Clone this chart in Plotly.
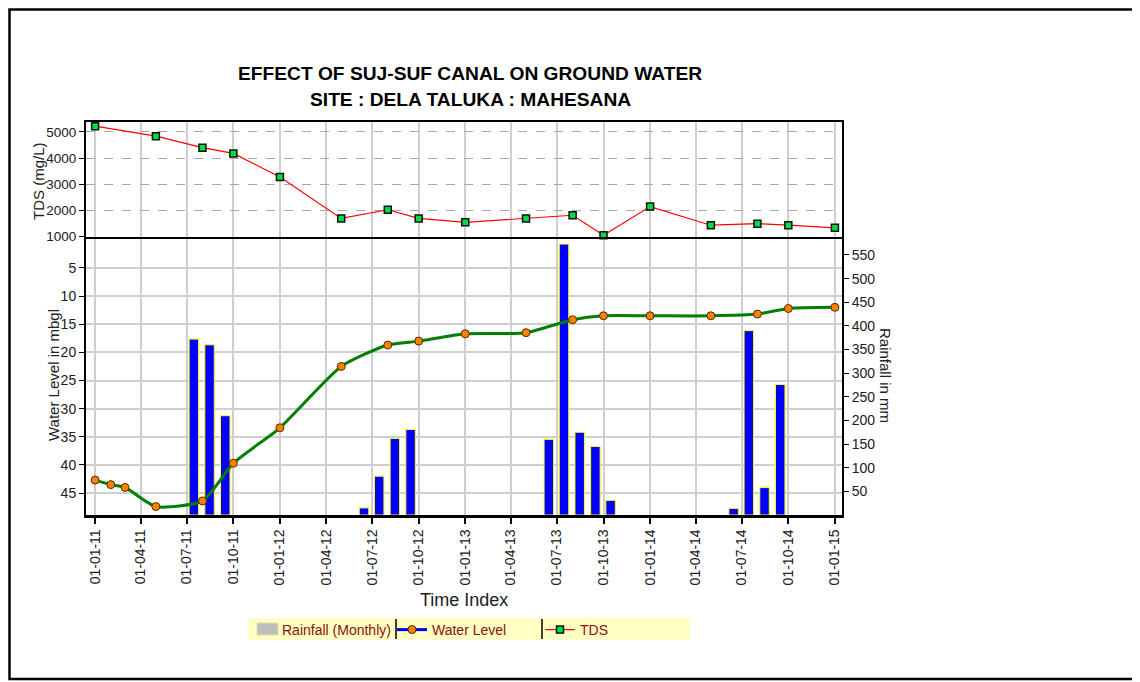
import plotly.graph_objects as go

# ---------------- data ----------------
tick_dates = ['2011-01-01', '2011-04-01', '2011-07-01', '2011-10-01',
              '2012-01-01', '2012-04-01', '2012-07-01', '2012-10-01',
              '2013-01-01', '2013-04-01', '2013-07-01', '2013-10-01',
              '2014-01-01', '2014-04-01', '2014-07-01', '2014-10-01',
              '2015-01-01']
tick_labels = ['01-01-11', '01-04-11', '01-07-11', '01-10-11',
               '01-01-12', '01-04-12', '01-07-12', '01-10-12',
               '01-01-13', '01-04-13', '01-07-13', '01-10-13',
               '01-01-14', '01-04-14', '01-07-14', '01-10-14',
               '01-01-15']

wl_dates = ['2011-01-01', '2011-02-01', '2011-03-01', '2011-05-01', '2011-08-01',
            '2011-10-01', '2012-01-01', '2012-05-01', '2012-08-01', '2012-10-01',
            '2013-01-01', '2013-05-01', '2013-08-01', '2013-10-01', '2014-01-01',
            '2014-05-01', '2014-08-01', '2014-10-01', '2015-01-01']
water_level = [42.7, 43.5, 44.0, 47.4, 46.4, 39.7, 33.4, 22.5, 18.7, 18.0,
               16.7, 16.5, 14.2, 13.5, 13.5, 13.5, 13.2, 12.2, 12.0]

tds_dates = ['2011-01-01', '2011-05-01', '2011-08-01', '2011-10-01', '2012-01-01',
             '2012-05-01', '2012-08-01', '2012-10-01', '2013-01-01', '2013-05-01',
             '2013-08-01', '2013-10-01', '2014-01-01', '2014-05-01', '2014-08-01',
             '2014-10-01', '2015-01-01']
tds = [5220, 4840, 4400, 4180, 3280, 1700, 2030, 1700, 1550, 1700,
       1820, 1060, 2150, 1440, 1500, 1440, 1340]

rain_dates = ['2011-07-15', '2011-08-15', '2011-09-15',
              '2012-06-15', '2012-07-15', '2012-08-15', '2012-09-15',
              '2013-06-15', '2013-07-15', '2013-08-15', '2013-09-15', '2013-10-15',
              '2014-06-15', '2014-07-15', '2014-08-15', '2014-09-15']
rainfall = [372, 360, 210, 15, 82, 162, 181, 160, 573, 175, 145, 31, 14, 390, 58, 276]

wl_ticks = [5, 10, 15, 20, 25, 30, 35, 40, 45]
rain_ticks = [50, 100, 150, 200, 250, 300, 350, 400, 450, 500, 550]
tds_ticks = [1000, 2000, 3000, 4000, 5000]

# ---------------- figure ----------------
FONT = "Arial, Liberation Sans, sans-serif"
GRID = "#CFCFCF"

fig = go.Figure()

# rainfall bars (base axis y, right side)
fig.add_trace(go.Bar(
    x=rain_dates, y=rainfall, xaxis='x', yaxis='y',
    width=1.62e9,
    marker=dict(color='#0000FF', line=dict(color='#FFFF00', width=1)),
    showlegend=False, hoverinfo='x+y'))

# water level (overlay axis y2, left side)
fig.add_trace(go.Scatter(
    x=wl_dates, y=water_level, xaxis='x', yaxis='y2',
    mode='lines+markers',
    line=dict(color='#008000', width=3, shape='spline', smoothing=0.6),
    marker=dict(symbol='circle', size=8, color='#FF8000',
                line=dict(color='#4a3000', width=1)),
    showlegend=False))

# TDS (top panel)
fig.add_trace(go.Scatter(
    x=tds_dates, y=tds, xaxis='x2', yaxis='y3',
    mode='lines+markers',
    line=dict(color='#FF0000', width=1.2),
    marker=dict(symbol='square', size=7, color='#00DD44',
                line=dict(color='#101010', width=1.5)),
    cliponaxis=False,
    showlegend=False))

# legend-only entries (styled as in the reference legend)
fig.add_trace(go.Bar(x=[None], y=[None], xaxis='x', yaxis='y',
                     name='Rainfall (Monthly)', legendwidth=105,
                     marker=dict(color='rgba(0,0,0,0)', line=dict(width=0))))
fig.add_trace(go.Scatter(x=[None], y=[None], xaxis='x', yaxis='y2',
                         name='Water Level', mode='lines+markers', legendwidth=103,
                         line=dict(color='#0000FF', width=3),
                         marker=dict(symbol='circle', size=8, color='#FF8000',
                                     line=dict(color='#4a3000', width=1))))
fig.add_trace(go.Scatter(x=[None], y=[None], xaxis='x2', yaxis='y3',
                         name='TDS', mode='lines+markers',
                         line=dict(color='#FF0000', width=1.2),
                         marker=dict(symbol='square', size=7, color='#00DD44',
                                     line=dict(color='#101010', width=1.5))))

# The page body adds an 8px offset; figure is laid out so that the
# screen positions match the reference.
OFF = 8
W, H = 1140 - OFF, 682 - OFF
L, T = 86 - OFF, 122 - OFF
R = W - (842 - OFF)
B = H - (515 - OFF)
PW = 842 - 86
PH = 515 - 122
SPLIT = (515 - 237) / PH


def px(xs):
    return (xs - 86) / PW


def py(ys):
    return (515 - ys) / PH


xrange_ = ['2010-12-14', '2015-01-15']

fig.update_layout(
    width=W, height=H,
    margin=dict(l=L, r=R, t=T, b=B, pad=0),
    paper_bgcolor='white', plot_bgcolor='white',
    barmode='overlay',
    font=dict(family=FONT, size=14, color='#202020'),
    xaxis=dict(
        type='date', range=xrange_, anchor='y', domain=[0, 1],
        tickmode='array', tickvals=tick_dates, ticktext=tick_labels,
        tickangle=-90, ticks='outside', ticklen=6, tickwidth=1.5, tickcolor='black',
        tickfont=dict(family=FONT, size=14, color='#202020'),
        showline=True, linecolor='black', linewidth=2.5,
        showgrid=True, gridcolor=GRID, gridwidth=1.5, zeroline=False),
    xaxis2=dict(
        type='date', range=xrange_, anchor='y3', matches='x', domain=[0, 1],
        tickmode='array', tickvals=tick_dates, showticklabels=False, ticks='',
        showline=True, linecolor='black', linewidth=2, mirror=True,
        showgrid=True, gridcolor=GRID, gridwidth=1.5, zeroline=False),
    yaxis=dict(
        domain=[0, SPLIT], range=[0, 588], side='right', anchor='x',
        tickmode='array', tickvals=rain_ticks,
        ticks='outside', ticklen=5, tickcolor='black',
        tickfont=dict(family=FONT, size=14, color='#202020'),
        showline=True, linecolor='black', linewidth=2,
        showgrid=False, zeroline=False),
    yaxis2=dict(
        overlaying='y', side='left', anchor='x', range=[48.9, -0.5],
        tickmode='array', tickvals=wl_ticks,
        ticks='outside', ticklen=5, tickcolor='black',
        tickfont=dict(family=FONT, size=14, color='#202020'),
        showline=True, linecolor='black', linewidth=2,
        showgrid=True, gridcolor=GRID, gridwidth=1.5, zeroline=False),
    yaxis3=dict(
        domain=[SPLIT, 1], range=[990, 5380], anchor='x2',
        tickmode='array', tickvals=tds_ticks,
        ticks='outside', ticklen=5, tickcolor='black',
        tickfont=dict(family=FONT, size=13.5, color='#202020'),
        showline=True, linecolor='black', linewidth=2, mirror=True,
        showgrid=True, gridcolor='#A8A8A8', gridwidth=1.2, griddash='dash',
        zeroline=False),
    legend=dict(
        orientation='h', x=px(242), y=py(614), xanchor='left', yanchor='top',
        bgcolor='rgba(0,0,0,0)', borderwidth=0,
        font=dict(family=FONT, size=14, color='#8B1010'),
        traceorder='normal', itemwidth=30),
    showlegend=True,
)

annotations = [
    dict(text='<b>EFFECT OF SUJ-SUF CANAL ON GROUND WATER</b>', x=px(470), y=py(73),
         font=dict(family=FONT, size=19.2, color='black')),
    dict(text='<b>SITE : DELA TALUKA : MAHESANA</b>', x=px(470), y=py(99),
         font=dict(family=FONT, size=19.2, color='black')),
    dict(text='Time Index', x=px(464), y=py(600),
         font=dict(family=FONT, size=18, color='#202020')),
    dict(text='Water Level in mbgl', x=px(53), y=py(375), textangle=-90,
         font=dict(family=FONT, size=15, color='#202020')),
    dict(text='TDS (mg/L)', x=px(39), y=py(181), textangle=-90,
         font=dict(family=FONT, size=15, color='#202020')),
    dict(text='Rainfall in mm', x=px(886), y=py(375), textangle=90,
         font=dict(family=FONT, size=15, color='#202020')),
]
for a in annotations:
    a.update(xref='paper', yref='paper', showarrow=False,
             xanchor='center', yanchor='middle')
fig.update_layout(annotations=annotations)

shapes = [
    # outer frame
    dict(type='rect', xref='paper', yref='paper',
         x0=px(OFF + 1.5), x1=px(1138), y0=py(OFF + 1.5), y1=py(679),
         line=dict(color='black', width=2.5), fillcolor='rgba(0,0,0,0)', layer='above'),
    # legend background
    dict(type='rect', xref='paper', yref='paper',
         x0=px(248), x1=px(690), y0=py(618), y1=py(640),
         line=dict(width=0), fillcolor='#FFFFC4', layer='below'),
    # rainfall legend swatch
    dict(type='rect', xref='paper', yref='paper',
         x0=px(257), x1=px(278), y0=py(623), y1=py(635),
         line=dict(color='#E0E0B0', width=1), fillcolor='#BEBEBE', layer='above'),
    # legend separators
    dict(type='line', xref='paper', yref='paper',
         x0=px(396), x1=px(396), y0=py(619), y1=py(639),
         line=dict(color='black', width=1.5)),
    dict(type='line', xref='paper', yref='paper',
         x0=px(542), x1=px(542), y0=py(619), y1=py(639),
         line=dict(color='black', width=1.5)),
]
fig.update_layout(shapes=shapes)

fig.write_html("out.html")
